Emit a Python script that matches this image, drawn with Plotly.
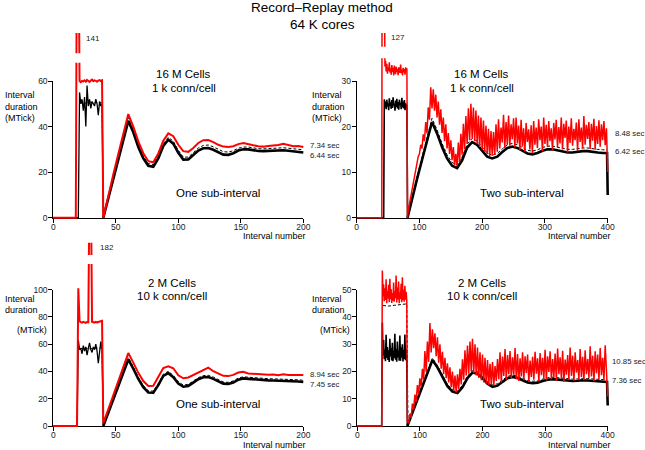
import plotly.graph_objects as go

# ---------------- data ----------------
# Panel A : 16 M cells, 1 k conn/cell, one sub-interval
A_red_x = [0, 18, 19, 20] + list(range(21, 41)) + list(range(44, 201, 4))
A_red_y = [0, 0, 141, 141,
           60.0, 59.5, 60.0, 59.8, 60.3, 59.7, 60.5, 60.0, 59.6, 60.2,
           60.6, 59.9, 60.3, 60.1, 59.7, 60.2, 60.4, 60.0, 60.3, 0,
           10, 19, 28, 37, 45.5, 40, 33.5, 28.3, 24.8, 24.3,
           28.2, 33.8, 37, 35.8, 32, 29.2, 28.9, 30.6, 32.8, 34,
           34.1, 33.2, 32, 31.2, 31, 31.4, 32.3, 32.8, 32.2, 31.8,
           31.4, 31.2, 31.5, 31.6, 31.9, 32.4, 31.8, 31.4, 31.5, 31]
A_blkpre_x = [0, 20] + list(range(21, 41))
A_blkpre_y = [0, 0,
              55, 50, 52, 47, 53, 40, 58, 49, 52, 48, 51, 50, 49, 52, 50, 45, 51, 49, 50, 0]
A_blk_x = list(range(40, 201, 4))
A_blk_y = [0, 8.5, 17, 25.5, 34, 42.5, 37.5, 31, 26, 22.8, 22.3,
           26, 31.5, 34.2, 32.5, 28.5, 25.5, 25.6, 27.5, 29.5, 30.5,
           30.6, 29.8, 28.6, 27.7, 27.6, 28.3, 29.5, 30, 30, 29.6,
           29.3, 29.2, 29.3, 29.5, 29.6, 29.6, 29.4, 29.2, 29, 28.6]
A_dsh_x = [21, 25, 29, 33, 37, 39] + list(range(40, 201, 4))
A_dsh_y = [50.5, 50.2, 50.8, 50.4, 50.6, 50.3,
           0, 9, 17.8, 26.5, 35.2, 44, 38.5, 32, 27, 23.8, 23.2,
           27, 32.5, 35.3, 33.6, 29.6, 26.6, 26.6, 28.5, 30.6, 31.7,
           31.9, 31.1, 29.9, 29, 28.8, 29.4, 30.5, 31, 31, 30.6,
           30.3, 30.2, 30.3, 30.5, 30.7, 30.7, 30.5, 30.3, 30.1, 29.8]

# Panel B : 2 M cells, 10 k conn/cell, one sub-interval
B_red_x = [0, 19, 20, 21] + list(range(22, 41)) + list(range(44, 201, 4))
B_red_y = [0, 0, 101, 77,
           76.2, 75.8, 76.4, 76.0, 75.7, 76.3, 76.1, 182, 182, 76.5,
           76.2, 75.9, 76.4, 76.0, 76.3, 76.6, 77.0, 77.2, 2,
           12, 22, 32.5, 43, 53.5, 46.5, 39, 33, 29.3, 29.5,
           35.5, 42.5, 43.8, 42.4, 37.2, 35, 35.6, 37.4, 39.3, 40.6,
           42.8, 40.2, 38.3, 36.8, 36.6, 37.5, 39.2, 39.8, 38.6, 38.4,
           37.8, 37.5, 37.6, 37.8, 37.3, 37.9, 37.4, 37.5, 37.2, 37.4]
B_blkpre_x = [0, 19] + list(range(20, 41))
B_blkpre_y = [0, 0,
              63, 56, 57, 53, 59, 55, 58, 52, 57, 61, 56, 54, 58, 56, 60, 55, 46, 56, 62, 56, 0]
B_blk_x = list(range(40, 201, 4))
B_blk_y = [0, 9.8, 19.5, 29.3, 39, 48.8, 42, 34.5, 28.5, 24.6, 24.4,
           30, 36.8, 38.8, 35.8, 31.2, 28.8, 29.4, 31.8, 34.3, 35.8,
           35.9, 34.6, 32.6, 31.1, 30.8, 31.9, 34, 34.9, 34.6, 34.2,
           33.9, 33.7, 33.5, 33.4, 33.3, 33.3, 33.1, 32.9, 32.7, 32.3]
B_dsh_x = [21, 25, 29, 33, 37, 39] + list(range(40, 201, 4))
B_dsh_y = [56.8, 57.2, 56.6, 57.0, 57.3, 56.9,
           0, 10.3, 20.4, 30.5, 40.5, 50.3, 43.4, 35.8, 29.8, 25.8, 25.6,
           31.2, 38, 40.1, 37.1, 32.5, 30, 30.6, 33, 35.5, 37,
           37.2, 35.9, 33.9, 32.3, 32, 33.1, 35.2, 36.1, 35.8, 35.4,
           35.1, 34.9, 34.7, 34.6, 34.5, 34.5, 34.3, 34.1, 33.9, 33.5]

# Panel C : 16 M cells, 1 k conn/cell, two sub-interval
C_red_x = [0, 40, 41, 42, 43] + list(range(44, 82)) + list(range(82, 399, 2)) + [400]
C_red_y = [0, 0, 127, 127, 127,
           35.0, 33.2, 34.4, 32.1, 33.8, 31.6, 33.0, 32.2, 34.1, 31.9,
           32.8, 31.4, 33.5, 32.0, 32.9, 31.2, 33.4, 32.3, 31.5, 33.1,
           32.0, 32.7, 31.3, 33.0, 32.4, 31.8, 33.6, 31.7, 32.5, 31.2,
           32.9, 31.9, 32.6, 31.4, 33.0, 32.2, 32.8, 0,
           1.5, 3.0, 4.6, 5.8, 7.6, 8.8, 10.6, 11.6, 13.4, 14.0,
           16.0, 15.2, 18.3, 16.8, 21.0, 18.5, 24.2, 21.5, 28.6, 24.0,
           28.2, 23.5, 27.0, 22.0, 25.5, 20.4, 23.8, 18.6, 22.0, 16.8,
           20.5, 15.2, 18.6, 14.0, 17.0, 12.6, 15.5, 11.6, 14.0, 11.3,
           16.5, 12.2, 18.4, 13.8, 20.6, 15.0, 22.3, 16.2, 24.0, 17.0,
           25.0, 17.4, 24.2, 16.8, 23.5, 16.2, 22.4, 15.5, 22.0, 15.0,
           21.3, 14.6, 20.2, 14.0, 19.5, 13.5, 19.0, 13.6, 18.8, 13.8,
           20.5, 14.5, 21.6, 15.2, 19.8, 16.5, 22.6, 15.3, 21.0, 16.0,
           22.4, 15.8, 20.5, 17.2, 21.8, 15.5, 22.0, 16.3, 20.2, 14.8,
           21.5, 15.6, 19.6, 14.5, 20.8, 16.6, 19.4, 15.0, 20.3, 14.2,
           21.2, 16.0, 19.8, 15.3, 21.6, 17.0, 20.0, 14.6, 22.0, 16.2,
           20.4, 15.5, 21.2, 16.8, 19.6, 14.8, 20.8, 17.2, 21.5, 15.4,
           19.9, 16.3, 22.0, 15.0, 20.6, 17.5, 21.3, 14.3, 20.0, 16.4,
           21.8, 15.8, 19.5, 17.0, 20.9, 14.7, 21.6, 16.6, 19.8, 15.2,
           22.3, 16.0, 20.4, 17.3, 21.0, 15.1, 20.6, 16.9, 21.7, 14.9,
           20.1, 16.2, 21.4, 15.6, 20.5, 17.0, 21.2, 15.9, 19.6,
           10]
C_blkpre_x = [0, 43] + list(range(44, 82))
C_blkpre_y = [0, 0,
              26.0, 24.2, 25.5, 23.8, 25.9, 24.4, 25.1, 23.6, 26.2, 24.5,
              25.3, 23.9, 25.8, 24.1, 26.4, 24.6, 25.0, 23.5, 25.7, 24.3,
              26.1, 24.0, 25.4, 23.7, 25.9, 24.7, 25.2, 23.8, 26.3, 24.2,
              25.5, 24.0, 25.8, 23.6, 25.1, 24.5, 24.8, 0]
C_blk_x = [81] + list(range(88, 393, 8)) + [399, 400]
C_blk_y = [0,
           4.2, 8.4, 12.6, 16.8, 21, 18.5, 15.5, 13, 11.4, 10.9,
           12.6, 15.4, 16.6, 16, 14.7, 13.4, 13, 13.4, 14.4, 15.3,
           15.6, 15.3, 14.7, 14.1, 13.9, 14.2, 14.7, 15, 15, 14.8,
           14.5, 14.3, 14.3, 14.5, 14.6, 14.6, 14.4, 14.3, 14.2,
           14.2, 5]
C_dsh_x = [81] + list(range(88, 393, 8)) + [399]
C_dsh_y = [0,
           4.5, 8.9, 13.3, 17.6, 21.8, 19.3, 16.3, 13.8, 12.1, 11.6,
           13.3, 16.1, 17.4, 16.8, 15.5, 14.2, 13.7, 14.1, 15.1, 16.0,
           16.3, 16.0, 15.4, 14.8, 14.6, 14.9, 15.4, 15.7, 15.7, 15.5,
           15.2, 15.0, 15.0, 15.2, 15.3, 15.3, 15.1, 15.0, 14.9,
           14.9]

# Panel D : 2 M cells, 10 k conn/cell, two sub-interval
D_red_x = [0, 39, 40] + list(range(41, 81)) + list(range(82, 399, 2)) + [400]
D_red_y = [0, 0, 57,
           47.5, 52.0, 45.8, 50.5, 46.2, 53.8, 45.0, 49.6, 46.8, 51.8,
           45.4, 54.0, 46.5, 50.2, 45.1, 48.8, 46.0, 52.6, 45.6, 49.4,
           46.9, 55.2, 45.3, 50.8, 46.4, 53.0, 45.0, 49.0, 46.6, 52.2,
           45.4, 54.6, 46.1, 50.0, 45.6, 51.4, 46.3, 49.2, 46.0, 1.5,
           1.0, 4.5, 3.0, 8.2, 6.0, 11.5, 8.8, 15.0, 11.6, 17.5,
           14.2, 21.0, 17.0, 27.5, 19.8, 31.0, 23.5, 37.8, 27.0, 35.5,
           28.5, 34.0, 25.6, 32.5, 23.2, 30.0, 21.0, 27.2, 19.0, 25.0,
           17.5, 23.0, 16.0, 21.5, 14.2, 20.0, 12.8, 18.5, 12.3, 19.0,
           13.5, 21.0, 15.2, 24.5, 17.0, 27.8, 18.5, 29.5, 19.2, 31.0,
           20.0, 32.0, 19.4, 30.0, 18.5, 28.8, 17.6, 27.0, 16.8, 26.2,
           16.0, 25.0, 15.5, 24.2, 15.0, 22.8, 15.2, 23.5, 14.8, 22.0,
           16.5, 24.6, 17.2, 27.0, 16.0, 25.5, 18.4, 28.2, 17.0, 26.0,
           19.0, 27.5, 17.6, 25.2, 18.8, 28.6, 17.2, 26.4, 16.5, 24.8,
           18.2, 27.0, 16.8, 25.6, 19.5, 26.2, 16.2, 24.0, 18.0, 25.4,
           17.0, 27.2, 19.2, 24.8, 16.4, 26.8, 18.6, 25.0, 17.4, 28.0,
           16.8, 25.6, 19.8, 27.4, 17.2, 24.6, 18.0, 26.6, 16.6, 28.4,
           19.0, 25.2, 17.4, 27.6, 16.2, 24.4, 18.8, 26.0, 17.0, 28.8,
           18.4, 25.8, 16.6, 27.0, 19.6, 24.2, 17.2, 28.2, 18.0, 25.4,
           16.8, 27.8, 19.0, 24.6, 17.6, 29.2, 18.2, 25.8, 16.4, 27.4,
           19.4, 26.2, 17.0, 28.6, 18.6, 25.0, 16.8, 29.6, 19.2,
           10.8]
D_blkpre_x = [0, 39] + list(range(40, 81))
D_blkpre_y = [0, 0,
              38.0, 26.0, 31.5, 24.5, 28.0, 23.8, 33.5, 25.0, 29.0, 24.2,
              27.8, 23.5, 32.0, 25.5, 28.5, 24.0, 30.5, 23.8, 27.5, 25.0,
              33.8, 24.3, 28.2, 23.6, 31.0, 25.2, 27.4, 24.0, 33.2, 23.9,
              28.8, 25.1, 30.0, 23.7, 27.9, 24.6, 33.6, 24.1, 28.4, 23.5, 0]
D_blk_x = [80] + list(range(88, 393, 8)) + [399, 400]
D_blk_y = [0,
           4.8, 9.6, 14.4, 19.3, 24.2, 21.5, 17.8, 14.6, 12.6, 12.1,
           14.2, 17.6, 19.6, 19.2, 17.6, 15.5, 14.4, 14.8, 16.2, 17.5,
           18.0, 17.6, 16.8, 16.0, 15.7, 15.9, 16.5, 17.0, 17.2, 17.0,
           16.7, 16.5, 16.5, 16.6, 16.8, 16.7, 16.5, 16.4, 16.3,
           16.2, 7.5]
D_dsh_x = [41, 50, 60, 70, 79, 81] + list(range(88, 393, 8)) + [399]
D_dsh_y = [44.2, 44.0, 44.3, 44.5, 44.8, 0,
           5.2, 10.1, 15.0, 19.9, 24.9, 22.2, 18.5, 15.3, 13.3, 12.8,
           14.9, 18.3, 20.3, 19.9, 18.3, 16.2, 15.1, 15.5, 16.9, 18.2,
           18.7, 18.3, 17.5, 16.7, 16.4, 16.6, 17.2, 17.7, 17.9, 17.7,
           17.4, 17.2, 17.2, 17.3, 17.5, 17.4, 17.2, 17.1, 17.0,
           16.9]

# text content
TITLE = ["Record\u2013Replay method", "64 K cores"]
CELLS = {"A": ["16 M Cells", "1 k conn/cell"], "C": ["16 M Cells", "1 k conn/cell"],
         "B": ["2 M Cells", "10 k conn/cell"], "D": ["2 M Cells", "10 k conn/cell"]}
SUB = {"A": "One sub-interval", "B": "One sub-interval",
       "C": "Two sub-interval", "D": "Two sub-interval"}
TIMES = {"A": ["7.34 sec", "6.44 sec"], "C": ["8.48 sec", "6.42 sec"],
         "B": ["8.94 sec", "7.45 sec"], "D": ["10.85 sec", "7.36 sec"]}
BREAK_LABEL = {"A": "141", "C": "127", "B": "182"}

for xs, ys in [(A_red_x, A_red_y), (A_blkpre_x, A_blkpre_y), (A_blk_x, A_blk_y), (A_dsh_x, A_dsh_y),
               (B_red_x, B_red_y), (B_blkpre_x, B_blkpre_y), (B_blk_x, B_blk_y), (B_dsh_x, B_dsh_y),
               (C_red_x, C_red_y), (C_blkpre_x, C_blkpre_y), (C_blk_x, C_blk_y), (C_dsh_x, C_dsh_y),
               (D_red_x, D_red_y), (D_blkpre_x, D_blkpre_y), (D_blk_x, D_blk_y), (D_dsh_x, D_dsh_y)]:
    assert len(xs) == len(ys), (len(xs), len(ys))

# ---------------- layout geometry (pixels) ----------------
W, H = 645, 450
FONT = "Liberation Sans, Arial, Helvetica, sans-serif"
RED = "#ff0000"

panels = [
    dict(px0=53.3, px1=303.3, xmax=200, xt=[0, 50, 100, 150, 200],
         py0=217.7, pyt=81.0, ytop=60, yt=[0, 20, 40, 60], pytop=33.0,
         red=(A_red_x, A_red_y, 2.0), pre=(A_blkpre_x, A_blkpre_y, 1.3),
         blk=(A_blk_x, A_blk_y), dsh=(A_dsh_x, A_dsh_y), gap=(17, 23, 68.0, 72.2)),
    dict(px0=356.7, px1=607.7, xmax=400, xt=[0, 100, 200, 300, 400],
         py0=217.7, pyt=81.0, ytop=30, yt=[0, 10, 20, 30], pytop=33.0,
         red=(C_red_x, C_red_y, 1.5), pre=(C_blkpre_x, C_blkpre_y, 1.6),
         blk=(C_blk_x, C_blk_y), dsh=(C_dsh_x, C_dsh_y), gap=(36, 48, 35.0, 37.5)),
    dict(px0=53.3, px1=303.3, xmax=200, xt=[0, 50, 100, 150, 200],
         py0=426.0, pyt=289.7, ytop=100, yt=[0, 20, 40, 60, 80, 100], pytop=242.7,
         red=(B_red_x, B_red_y, 2.0), pre=(B_blkpre_x, B_blkpre_y, 1.3),
         blk=(B_blk_x, B_blk_y), dsh=(B_dsh_x, B_dsh_y), gap=(27, 33, 118.9, 125.5)),
    dict(px0=357.3, px1=607.7, xmax=400, xt=[0, 100, 200, 300, 400],
         py0=426.0, pyt=289.7, ytop=50, yt=[0, 10, 20, 30, 40, 50], pytop=240.0,
         red=(D_red_x, D_red_y, 1.5), pre=(D_blkpre_x, D_blkpre_y, 1.6),
         blk=(D_blk_x, D_blk_y), dsh=(D_dsh_x, D_dsh_y), gap=None),
]


def fx(px):
    return px / W


def fy(py):
    return 1 - py / H


fig = go.Figure()
axes = {}
shapes = []
PADL, PADR, PADB = 3, 6, 3

# decoration subplots first (axis lines / ticks), data subplots afterwards
for i, p in enumerate(panels):
    n = i + 1
    xid = "x" if n == 1 else f"x{n}"
    yid = "y" if n == 1 else f"y{n}"
    fig.add_trace(go.Scatter(x=[], y=[], xaxis=xid, yaxis=yid,
                             hoverinfo="skip", showlegend=False))
    common = dict(showline=True, linecolor="black", linewidth=1, ticks="outside",
                  ticklen=4, tickwidth=1, tickcolor="black", showgrid=False,
                  zeroline=False, fixedrange=True,
                  tickfont=dict(family=FONT, size=8.5, color="#222"))
    axes["xaxis" if n == 1 else f"xaxis{n}"] = dict(
        domain=[fx(p["px0"]), fx(p["px1"])], range=[0, p["xmax"]], anchor=yid,
        tickvals=p["xt"], ticklabelstandoff=-3, **common)
    axes["yaxis" if n == 1 else f"yaxis{n}"] = dict(
        domain=[fy(p["py0"]), fy(p["pyt"])], range=[0, p["ytop"]], anchor=xid,
        tickvals=p["yt"], ticklabelstandoff=-1, **common)

for i, p in enumerate(panels):
    m = i + 5
    sx = (p["px1"] - p["px0"]) / p["xmax"]
    sy = (p["py0"] - p["pyt"]) / p["ytop"]
    axes[f"xaxis{m}"] = dict(domain=[fx(p["px0"] - PADL), fx(p["px1"] + PADR)],
                             range=[-PADL / sx, p["xmax"] + PADR / sx],
                             anchor=f"y{m}", visible=False, fixedrange=True)
    axes[f"yaxis{m}"] = dict(domain=[fy(p["py0"] + PADB), fy(p["pytop"])],
                             range=[-PADB / sy, (p["py0"] - p["pytop"]) / sy],
                             anchor=f"x{m}", visible=False, fixedrange=True)
    px_, py_, pw = p["pre"]
    bx, by = p["blk"]
    dx, dy = p["dsh"]
    rx, ry, rw = p["red"]
    kw = dict(mode="lines", xaxis=f"x{m}", yaxis=f"y{m}", hoverinfo="skip", showlegend=False)
    fig.add_trace(go.Scatter(x=px_, y=py_, line=dict(color="black", width=pw), **kw))
    fig.add_trace(go.Scatter(x=bx, y=by, line=dict(color="black", width=2.6), **kw))
    fig.add_trace(go.Scatter(x=dx, y=dy, line=dict(color="black", width=1, dash="3px,2px"), **kw))
    fig.add_trace(go.Scatter(x=rx, y=ry, line=dict(color=RED, width=rw), **kw))
    if p["gap"]:
        g = p["gap"]
        shapes.append(dict(type="rect", xref=f"x{m}", yref=f"y{m}", x0=g[0], x1=g[1],
                           y0=g[2], y1=g[3], fillcolor="white",
                           line=dict(width=0), layer="above"))

# ---------------- annotations ----------------
ann = []


def text(t, px, py, size, xanchor="center", color="black"):
    ann.append(dict(text=t, x=fx(px), y=fy(py), xref="paper", yref="paper",
                    xanchor=xanchor, yanchor="middle", showarrow=False,
                    font=dict(family=FONT, size=size, color=color)))


text(TITLE[0], 322, 7.5, 13.5)
text(TITLE[1], 322, 24, 13.5)

cell_pos = {"A": (183.5, 74, 88), "C": (481.5, 74, 88),
            "B": (171.5, 282.5, 296), "D": (482, 282.5, 296)}
for k, (cx, y1, y2) in cell_pos.items():
    text(CELLS[k][0], cx, y1, 11.5)
    text(CELLS[k][1], cx, y2, 11.5)

sub_pos = {"A": (218.3, 193.3), "C": (521.7, 193.3), "B": (218.3, 404.3), "D": (521.7, 404.3)}
for k, (cx, cy) in sub_pos.items():
    text(SUB[k], cx, cy, 11.5)

# y-axis titles
YF = 9
for lx in (2.5, 310):
    text("Interval", lx, 95, YF, "left")
    text("duration", lx, 106.8, YF, "left")
    text("(MTick)", lx, 118.5, YF, "left")
for lx, mx in [(2.5, 15), (310, 318)]:
    text("Interval", lx, 299, YF, "left")
    text("duration", lx, 310, YF, "left")
    text("(MTick)", mx, 329.5, YF, "left")

time_pos = {"A": (308.3, 145.7, 155.5), "C": (612.7, 133.3, 151.7),
            "B": (308.3, 374, 384), "D": (610.3, 361.7, 380.7)}
for k, (lx, y1, y2) in time_pos.items():
    text(TIMES[k][0], lx, y1, 7.8, "left", "#222")
    text(TIMES[k][1], lx, y2, 7.8, "left", "#222")

for rx, ry in [(308.3, 236), (612.7, 236), (308.3, 445), (612.7, 445)]:
    text("Interval number", rx, ry, 9, "right")

brk_pos = {"A": (84, 38.3), "C": (389, 37.7), "B": (98.3, 247.7)}
for k, (lx, ly) in brk_pos.items():
    text(BREAK_LABEL[k], lx, ly, 8, "left", "#222")

fig.update_layout(width=W, height=H, margin=dict(l=0, r=0, t=0, b=0, autoexpand=False),
                  paper_bgcolor="white", plot_bgcolor="rgba(0,0,0,0)",
                  showlegend=False, hovermode=False, annotations=ann, shapes=shapes,
                  **axes)

fig.write_html("out.html", config={"displayModeBar": False},
               post_script="document.body.style.margin='0px';"
                           "document.body.style.overflow='hidden';")
